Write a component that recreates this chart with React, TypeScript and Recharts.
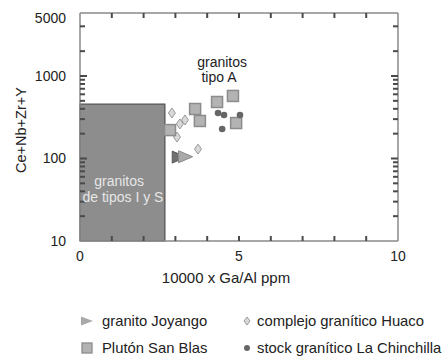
import { ScatterChart, Scatter, XAxis, YAxis, ReferenceArea, ReferenceDot } from "recharts"

const FONT = '"Liberation Sans", Arial, sans-serif'
const AXIS = "#8a8a8a"
const TICKCOL = "#4a4a4a"

// axes
const xDomain = [0, 10]
const yDomain = [10, 5800]
const xTicks = [0, 1, 2, 3, 4, 5, 6, 7, 8, 9, 10]
const xMarks = [1, 2, 3, 4, 5, 6, 7, 8, 9]
const xLabels = [0, 5, 10]
const yTicks = [10, 100, 1000]
const yMajorMarks = [100, 1000]
const yMinorMarks = [20, 30, 40, 50, 60, 70, 80, 90, 200, 300, 400, 500, 600, 700, 800, 900, 2000, 4000]
const yTopLabel = 5000
const yBottomMark = 10.01 // just inside the log domain so the marks are kept

// granitos de tipos I y S field
const fieldX = [0, 2.67]
const fieldY = [10, 455]

// series (10000 x Ga/Al, Ce+Nb+Zr+Y)
const joyangoX = [3.12, 3.32]
const joyangoY = [104, 105]
const sanBlasX = [2.83, 3.62, 3.77, 4.31, 4.81, 4.91]
const sanBlasY = [221, 398, 285, 484, 573, 269]
const huacoX = [2.89, 3.05, 3.14, 3.3, 3.71]
const huacoY = [356, 182, 262, 293, 130]
const chinchillaX = [4.34, 4.53, 4.47, 5.03]
const chinchillaY = [356, 336, 228, 336]

const names = ["granito Joyango", "complejo granítico Huaco", "Plutón San Blas", "stock granítico La Chinchilla"]

const zip = (xs: number[], ys: number[]) => xs.map((x, i) => ({ x, y: ys[i] }))

const Triangle = (p: any) => {
  const dark = p.index === 0
  return (
    <path
      d={`M${p.cx - 7},${p.cy - 6} L${p.cx + 7},${p.cy} L${p.cx - 7},${p.cy + 6} Z`}
      fill={dark ? "#707070" : "#a9a9a9"}
      stroke={dark ? "#5a5a5a" : "#8a8a8a"}
      strokeWidth={1}
    />
  )
}
const Square = (p: any) => (
  <rect x={p.cx - 5.5} y={p.cy - 5.5} width={11} height={11} fill="#b3b3b3" stroke="#8c8c8c" strokeWidth={1.5} />
)
const Diamond = (p: any) => (
  <path
    d={`M${p.cx},${p.cy - 5} L${p.cx + 3.5},${p.cy} L${p.cx},${p.cy + 5} L${p.cx - 3.5},${p.cy} Z`}
    fill="#d9d9d9"
    stroke="#9a9a9a"
    strokeWidth={1}
  />
)
const Dot = (p: any) => <circle cx={p.cx} cy={p.cy} r={3.3} fill="#666" />

const BottomTick = (p: any) => {
  const v = p.payload.value
  if (!xLabels.includes(v)) return <g />
  return (
    <text x={p.x} y={p.y + 20} textAnchor="middle" fontSize={14} fill="#222" fontFamily={FONT}>
      {v}
    </text>
  )
}
const LeftTick = (p: any) => (
  <text x={p.x - 14} y={p.y + 5} textAnchor="end" fontSize={14} fill="#222" fontFamily={FONT}>
    {p.payload.value}
  </text>
)

// inward tick marks, drawn at scale positions: dx/dy give direction and length
const mark = (dx: number, dy: number) => (p: any) => (
  <path d={`M${p.cx},${p.cy} l${dx},${dy}`} stroke={TICKCOL} strokeWidth={2} />
)

const note = (text: string, color: string, anchor = "middle", dx = 0) => (p: any) => (
  <text x={p.cx + dx} y={p.cy + 5} textAnchor={anchor} fontSize={14} fill={color} fontFamily={FONT}>
    {text}
  </text>
)

const legendIcons = [
  <svg width={14} height={12}><path d="M1,1.5 L13,6 L1,10.5 Z" fill="#a9a9a9" /></svg>,
  <svg width={8} height={10}><path d="M4,1 L7,5 L4,9 L1,5 Z" fill="#d9d9d9" stroke="#9a9a9a" /></svg>,
  <svg width={12} height={12}><rect x={1} y={1} width={10} height={10} fill="#b3b3b3" stroke="#8c8c8c" strokeWidth={1.3} /></svg>,
  <svg width={8} height={8}><circle cx={4} cy={4} r={3} fill="#666" /></svg>,
]
const legendPos = [
  { ix: 87, tx: 102, y: 321 },
  { ix: 247, tx: 257, y: 321 },
  { ix: 87, tx: 102, y: 348 },
  { ix: 247, tx: 257, y: 348 },
]

const axisLine = { stroke: AXIS, strokeWidth: 1.5 }
const ax = { xAxisId: "b", yAxisId: "l", r: 0, ifOverflow: "visible" as const }

export default function App() {
  return (
    <div style={{ position: "relative", width: 445, height: 358, fontFamily: FONT, color: "#222" }}>
      <style>{"body{margin:0}"}</style>
      <div style={{ position: "absolute", left: 8, top: 8 }}>
        <ScatterChart width={437} height={285} margin={{ top: 4, right: 46, bottom: 2, left: 0 }}>
          <XAxis
            xAxisId="b"
            type="number"
            dataKey="x"
            domain={xDomain}
            ticks={xTicks}
            interval={0}
            height={50}
            tickSize={0}
            tickMargin={0}
            tickLine={false}
            tick={<BottomTick />}
            axisLine={axisLine}
          />
          <XAxis xAxisId="t" orientation="top" type="number" dataKey="x" domain={xDomain} height={1} tick={false} tickLine={false} axisLine={axisLine} />
          <YAxis
            yAxisId="l"
            type="number"
            dataKey="y"
            scale="log"
            domain={yDomain}
            allowDataOverflow
            ticks={yTicks}
            interval={0}
            width={72}
            tickSize={0}
            tickMargin={0}
            tickLine={false}
            tick={<LeftTick />}
            axisLine={axisLine}
          />
          <YAxis yAxisId="r" orientation="right" type="number" dataKey="y" scale="log" domain={yDomain} allowDataOverflow width={1} tick={false} tickLine={false} axisLine={axisLine} />
          <ReferenceArea
            xAxisId="b"
            yAxisId="l"
            x1={fieldX[0]}
            x2={fieldX[1]}
            y1={fieldY[0]}
            y2={fieldY[1]}
            fill="#8d8d8d"
            fillOpacity={1}
            stroke="#505050"
            strokeWidth={1.2}
          />
          {xMarks.map((v) => (
            <ReferenceDot key={"xb" + v} {...ax} x={v} y={yBottomMark} shape={mark(0, -5)} />
          ))}
          {xMarks.map((v) => (
            <ReferenceDot key={"xt" + v} {...ax} x={v} y={yDomain[1]} shape={mark(0, 5)} />
          ))}
          {yMajorMarks.map((v) => (
            <ReferenceDot key={"yl" + v} {...ax} x={xDomain[0]} y={v} shape={mark(7, 0)} />
          ))}
          {yMajorMarks.map((v) => (
            <ReferenceDot key={"yr" + v} {...ax} x={xDomain[1]} y={v} shape={mark(-7, 0)} />
          ))}
          {yMinorMarks.map((v) => (
            <ReferenceDot key={"ml" + v} {...ax} x={xDomain[0]} y={v} shape={mark(5, 0)} />
          ))}
          {yMinorMarks.map((v) => (
            <ReferenceDot key={"mr" + v} {...ax} x={xDomain[1]} y={v} shape={mark(-5, 0)} />
          ))}
          <ReferenceDot {...ax} x={xDomain[0]} y={yTopLabel} shape={note(String(yTopLabel), "#222", "end", -14)} />
          <ReferenceDot {...ax} x={1.23} y={53} shape={note("granitos", "#e6e6e6")} />
          <ReferenceDot {...ax} x={1.35} y={34} shape={note("de tipos I y S", "#e6e6e6")} />
          <ReferenceDot {...ax} x={4.47} y={1480} shape={note("granitos", "#222")} />
          <ReferenceDot {...ax} x={4.37} y={970} shape={note("tipo A", "#222")} />
          <Scatter xAxisId="b" yAxisId="l" name={names[1]} data={zip(huacoX, huacoY)} shape={Diamond} isAnimationActive={false} />
          <Scatter xAxisId="b" yAxisId="l" name={names[2]} data={zip(sanBlasX, sanBlasY)} shape={Square} isAnimationActive={false} />
          <Scatter xAxisId="b" yAxisId="l" name={names[3]} data={zip(chinchillaX, chinchillaY)} shape={Dot} isAnimationActive={false} />
          <Scatter xAxisId="b" yAxisId="l" name={names[0]} data={zip(joyangoX, joyangoY)} shape={Triangle} isAnimationActive={false} />
        </ScatterChart>
      </div>
      <div
        style={{
          position: "absolute",
          left: 21,
          top: 130,
          transform: "translate(-50%, -50%) rotate(-90deg)",
          whiteSpace: "nowrap",
          fontSize: 14.5,
        }}
      >
        Ce+Nb+Zr+Y
      </div>
      <div
        style={{
          position: "absolute",
          left: 226,
          top: 277,
          transform: "translate(-50%, -50%)",
          whiteSpace: "nowrap",
          fontSize: 15,
        }}
      >
        10000 x Ga/Al ppm
      </div>
      {names.map((n, i) => (
        <div key={n}>
          <div
            style={{
              position: "absolute",
              left: legendPos[i].ix,
              top: legendPos[i].y,
              transform: "translate(-50%, -50%)",
              lineHeight: 0,
            }}
          >
            {legendIcons[i]}
          </div>
          <div
            style={{
              position: "absolute",
              left: legendPos[i].tx,
              top: legendPos[i].y,
              transform: "translateY(-50%)",
              whiteSpace: "nowrap",
              fontSize: 14.8,
            }}
          >
            {n}
          </div>
        </div>
      ))}
    </div>
  )
}
